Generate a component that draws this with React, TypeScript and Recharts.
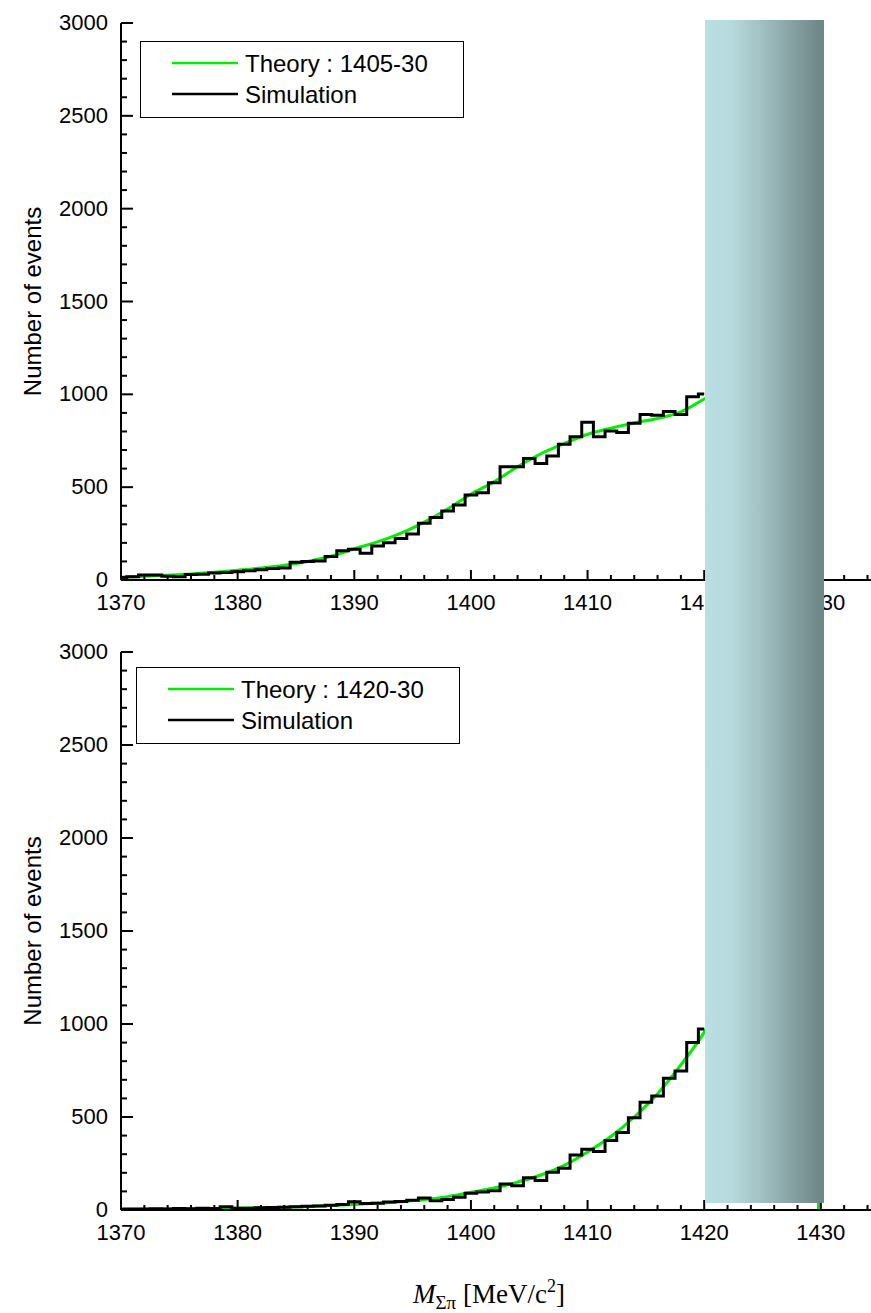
import React from 'react';
import { LineChart, Line, XAxis, YAxis, Legend } from 'recharts';

// invariant-mass bins (MeV/c^2), 1 MeV wide, centred on the integers
const binMass = [
  1370, 1371, 1372, 1373, 1374, 1375, 1376, 1377, 1378, 1379,
  1380, 1381, 1382, 1383, 1384, 1385, 1386, 1387, 1388, 1389,
  1390, 1391, 1392, 1393, 1394, 1395, 1396, 1397, 1398, 1399,
  1400, 1401, 1402, 1403, 1404, 1405, 1406, 1407, 1408, 1409,
  1410, 1411, 1412, 1413, 1414, 1415, 1416, 1417, 1418, 1419, 1420,
];

// simulated counts, 1405-30 case
const simA = [
  14, 18, 27, 27, 20, 18, 30, 31, 38, 40,
  45, 50, 55, 62, 65, 95, 100, 102, 126, 158,
  165, 144, 183, 201, 224, 248, 305, 336, 372, 404,
  458, 470, 524, 610, 610, 655, 628, 668, 731, 772,
  849, 772, 802, 795, 844, 892, 887, 908, 892, 987, 1002,
];

// simulated counts, 1420-30 case
const simB = [
  5, 6, 5, 7, 6, 8, 7, 9, 8, 18,
  10, 9, 12, 14, 15, 18, 20, 22, 26, 30,
  45, 35, 36, 43, 46, 52, 64, 50, 57, 68,
  90, 97, 104, 140, 131, 174, 158, 203, 224, 296,
  326, 314, 373, 416, 496, 579, 613, 708, 747, 900, 973,
];

// theory curves, sampled along the mass axis (drop to zero at the 1430 edge)
const theoryMass = [
  1370, 1372, 1374, 1376, 1378, 1380, 1382, 1384, 1386, 1388,
  1390, 1392, 1394, 1396, 1398, 1400, 1402, 1404, 1406, 1408,
  1410, 1412, 1414, 1416, 1418, 1420, 1422, 1424, 1426, 1428, 1429.7, 1429.8,
];
const theoryA = [
  15, 20, 26, 33, 42, 53, 65, 80, 100, 128,
  168, 205, 252, 312, 382, 462, 530, 610, 680, 735,
  785, 818, 846, 870, 905, 975, 1050, 1100, 1120, 1100, 1060, 0,
];
const theoryB = [
  3, 4, 5, 6, 8, 10, 12, 15, 19, 24,
  30, 37, 45, 56, 72, 95, 118, 150, 188, 240,
  312, 395, 500, 625, 780, 955, 1180, 1420, 1640, 1800, 1850, 0,
];

const xTicks = [
  1370, 1372, 1374, 1376, 1378, 1380, 1382, 1384, 1386, 1388,
  1390, 1392, 1394, 1396, 1398, 1400, 1402, 1404, 1406, 1408,
  1410, 1412, 1414, 1416, 1418, 1420, 1422, 1424, 1426, 1428,
  1430, 1432, 1434,
];
const yTicks = [
  0, 100, 200, 300, 400, 500, 600, 700, 800, 900,
  1000, 1100, 1200, 1300, 1400, 1500, 1600, 1700, 1800, 1900,
  2000, 2100, 2200, 2300, 2400, 2500, 2600, 2700, 2800, 2900, 3000,
];

const FONT = '"Liberation Sans", Arial, sans-serif';
const GREEN = '#00f000';

const histRows = (ys: number[]) => binMass.map((m, i) => ({ m, sim: ys[i] }));
const theoryRows = (ys: number[]) => theoryMass.map((m, i) => ({ m, theory: ys[i] }));

function BottomTick(props: any) {
  const { x, y, payload } = props;
  const major = payload.value % 10 === 0;
  return (
    <g>
      <line x1={x} x2={x} y1={y} y2={y - (major ? 10 : 5)} stroke="#000" strokeWidth={2} />
      {major && (
        <text x={x} y={y + 30} textAnchor="middle" fontSize={22} fontFamily={FONT} fill="#000">
          {payload.value}
        </text>
      )}
    </g>
  );
}

function TopTick(props: any) {
  const { x, y, payload } = props;
  const major = payload.value % 10 === 0;
  return <line x1={x} x2={x} y1={y} y2={y + (major ? 5 : 3)} stroke="#000" strokeWidth={2} />;
}

function LeftTick(props: any) {
  const { x, y, payload } = props;
  const major = payload.value % 500 === 0;
  return (
    <g>
      <line x1={x} x2={x + (major ? 12 : 6)} y1={y} y2={y} stroke="#000" strokeWidth={2} />
      {major && (
        <text x={x - 13} y={y + 7} textAnchor="end" fontSize={22} fontFamily={FONT} fill="#000">
          {payload.value}
        </text>
      )}
    </g>
  );
}

function YTitle({ cy }: { cy: number }) {
  return (
    <text
      x={33}
      y={cy}
      transform={`rotate(-90 33 ${cy})`}
      textAnchor="middle"
      dy="0.35em"
      fontSize={24}
      fontFamily={FONT}
      fill="#000"
    >
      Number of events
    </text>
  );
}

function XTitle() {
  return (
    <text x={489} y={673} textAnchor="middle" fontSize={27} fontFamily='"Liberation Serif", "Times New Roman", serif' fill="#000">
      <tspan fontStyle="italic">M</tspan>
      <tspan fontSize={19} dy={6}>Σπ</tspan>
      <tspan dy={-6}> [MeV/c</tspan>
      <tspan fontSize={18} dy={-11}>2</tspan>
      <tspan dy={11}>]</tspan>
    </text>
  );
}

// theory entry first, simulation second
function LegendBox(props: any) {
  const items = [...(props.payload || [])].sort(
    (a: any, b: any) => (a.value === 'Simulation' ? 1 : 0) - (b.value === 'Simulation' ? 1 : 0),
  );
  return (
    <svg width={324} height={77} style={{ display: 'block' }}>
      <rect x={0.5} y={0.5} width={323} height={76} fill="#fff" stroke="#000" strokeWidth={1} />
      {items.map((it: any, i: number) => {
        const ly = 22 + i * 31;
        return (
          <g key={it.value}>
            <line x1={32} x2={98} y1={ly} y2={ly} stroke={it.color} strokeWidth={2.5} />
            <text x={105} y={ly + 8.5} fontSize={24} fontFamily={FONT} fill="#000">
              {it.value}
            </text>
          </g>
        );
      })}
    </svg>
  );
}

interface PanelProps {
  sim: number[];
  theory: number[];
  label: string;
  height: number;
  top: number;
  axisHeight: number;
  legendLeft: number;
  legendTop: number;
  showTitle?: boolean;
}

function Panel({ sim, theory, label, height, top, axisHeight, legendLeft, legendTop, showTitle }: PanelProps) {
  const plotBottom = height - axisHeight;
  return (
    <LineChart width={871} height={height} margin={{ top, right: 0, bottom: 0, left: 61 }}>
      <XAxis
        xAxisId="b"
        type="number"
        dataKey="m"
        domain={[1370, 1434.3]}
        allowDataOverflow
        ticks={xTicks}
        interval={0}
        tickSize={0}
        tickMargin={0}
        tickLine={false}
        axisLine={{ stroke: '#000', strokeWidth: 2 }}
        height={axisHeight}
        tick={(p: any) => <BottomTick {...p} />}
        label={showTitle ? <XTitle /> : undefined}
      />
      <XAxis
        xAxisId="t"
        orientation="top"
        type="number"
        domain={[1370, 1434.3]}
        allowDataOverflow
        ticks={xTicks}
        interval={0}
        tickSize={0}
        tickMargin={0}
        tickLine={false}
        axisLine={{ stroke: '#000', strokeWidth: 2 }}
        height={0}
        tick={(p: any) => <TopTick {...p} />}
      />
      <YAxis
        type="number"
        domain={[0, 3000]}
        allowDataOverflow
        ticks={yTicks}
        interval={0}
        width={60}
        tickSize={0}
        tickMargin={0}
        tickLine={false}
        axisLine={{ stroke: '#000', strokeWidth: 2 }}
        tick={(p: any) => <LeftTick {...p} />}
        label={<YTitle cy={(top + plotBottom) / 2} />}
      />
      <Legend
        layout="vertical"
        align="center"
        verticalAlign="middle"
        wrapperStyle={{ left: legendLeft, top: legendTop, width: 324, height: 77 }}
        content={(p: any) => <LegendBox {...p} />}
      />
      <Line
        xAxisId="b"
        data={theoryRows(theory)}
        dataKey="theory"
        name={label}
        type="monotone"
        stroke={GREEN}
        strokeWidth={3}
        dot={false}
        isAnimationActive={false}
      />
      <Line
        xAxisId="b"
        data={histRows(sim)}
        dataKey="sim"
        name="Simulation"
        type="step"
        stroke="#000"
        strokeWidth={3}
        dot={false}
        isAnimationActive={false}
      />
    </LineChart>
  );
}

export default function App() {
  return (
    <div style={{ position: 'relative', width: 871, height: 1313, background: '#fff', overflow: 'hidden' }}>
      <style>{'body{margin:0}'}</style>
      <div style={{ position: 'absolute', left: 0, top: 0 }}>
        <Panel sim={simA} theory={theoryA} label="Theory : 1405-30" height={630} top={23} axisHeight={50} legendLeft={140} legendTop={41} />
      </div>
      <div style={{ position: 'absolute', left: 0, top: 630 }}>
        <Panel sim={simB} theory={theoryB} label="Theory : 1420-30" height={683} top={22} axisHeight={103} legendLeft={136} legendTop={37} showTitle />
      </div>
      {/* shaded band over 1420-1430 */}
      <div
        style={{
          position: 'absolute',
          left: 705,
          top: 20,
          width: 119,
          height: 1183,
          background: 'linear-gradient(90deg, #badfe3 0%, #b6dadd 22%, #9fbec0 50%, #85a0a1 75%, #718889 95%, #708888 100%)',
        }}
      />
    </div>
  );
}
